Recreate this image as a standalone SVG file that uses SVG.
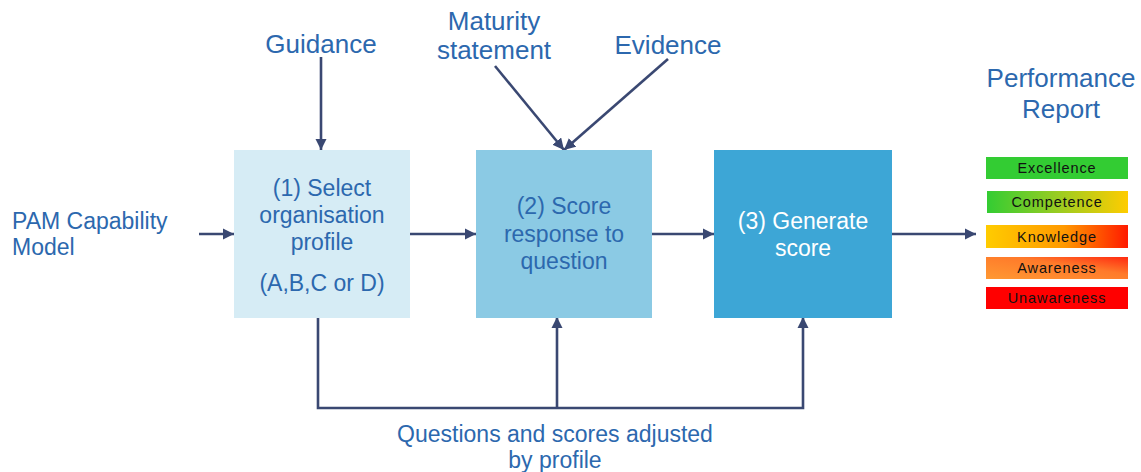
<svg xmlns="http://www.w3.org/2000/svg" width="1141" height="472" viewBox="0 0 1141 472">
<style>
.lbl{font-family:"Liberation Sans",Arial,sans-serif;fill:#2C68AE;text-anchor:middle}
.top{font-size:26px}
.box{font-size:23px}
.leg{font-family:"Liberation Sans",Arial,sans-serif;font-size:14.5px;letter-spacing:0.9px;fill:#111;text-anchor:middle}
.con{stroke:#3A4872;stroke-width:2.6;fill:none}
</style>
<defs>
<marker id="ah" viewBox="0 0 10 10" refX="10" refY="5" markerWidth="4.4" markerHeight="4.4" orient="auto" markerUnits="strokeWidth">
<path d="M0,0 L10,5 L0,10 Z" fill="#3A4872"/>
</marker>
<linearGradient id="gComp" x1="0" x2="1" y1="0" y2="0"><stop offset="0" stop-color="#33CC33"/><stop offset="0.5" stop-color="#99CC22"/><stop offset="1" stop-color="#FFCC00"/></linearGradient>
<linearGradient id="gKnow" x1="0" x2="1" y1="0" y2="0"><stop offset="0" stop-color="#FFCC00"/><stop offset="0.55" stop-color="#FF9900"/><stop offset="1" stop-color="#FF1A00"/></linearGradient>
<linearGradient id="gAware" x1="0" x2="1" y1="1" y2="0"><stop offset="0" stop-color="#FF9933"/><stop offset="0.6" stop-color="#FF7A2A"/><stop offset="1" stop-color="#FF2A10"/></linearGradient>
</defs>

<g id="connectors">
<line class="con" x1="199" y1="234" x2="234" y2="234" marker-end="url(#ah)"/>
<line class="con" x1="410" y1="234" x2="476" y2="234" marker-end="url(#ah)"/>
<line class="con" x1="652" y1="234" x2="714" y2="234" marker-end="url(#ah)"/>
<line class="con" x1="891" y1="234" x2="976" y2="234" marker-end="url(#ah)"/>
<line class="con" x1="321" y1="57" x2="321" y2="150" marker-end="url(#ah)"/>
<line class="con" x1="495" y1="66" x2="564" y2="150" marker-end="url(#ah)"/>
<line class="con" x1="668" y1="59" x2="564" y2="150" marker-end="url(#ah)"/>
<polyline class="con" points="318,315 318,408 803,408 803,317" marker-end="url(#ah)"/>
<line class="con" x1="557" y1="408" x2="557" y2="317" marker-end="url(#ah)"/>
</g>

<g id="node-pam">
<text class="lbl box" style="text-anchor:start" x="12" y="229">PAM Capability</text>
<text class="lbl box" style="text-anchor:start" x="12" y="255">Model</text>
</g>

<g id="node-guidance"><text class="lbl top" x="321" y="53">Guidance</text></g>
<g id="node-maturity">
<text class="lbl top" x="494" y="30">Maturity</text>
<text class="lbl top" x="494" y="59">statement</text>
</g>
<g id="node-evidence"><text class="lbl top" x="668" y="54">Evidence</text></g>

<g id="node-1">
<rect x="234" y="150" width="176" height="168" fill="#D6ECF5"/>
<text class="lbl box" x="322" y="196">(1) Select</text>
<text class="lbl box" x="322" y="223">organisation</text>
<text class="lbl box" x="322" y="250">profile</text>
<text class="lbl box" x="322" y="291">(A,B,C or D)</text>
</g>

<g id="node-2">
<rect x="476" y="150" width="176" height="168" fill="#8BCAE4"/>
<text class="lbl box" x="564" y="214">(2) Score</text>
<text class="lbl box" x="564" y="242">response to</text>
<text class="lbl box" x="564" y="269">question</text>
</g>

<g id="node-3">
<rect x="714" y="150" width="178" height="168" fill="#3DA6D6"/>
<text class="lbl box" style="fill:#fff" x="803" y="229">(3) Generate</text>
<text class="lbl box" style="fill:#fff" x="803" y="256">score</text>
</g>

<g id="node-questions">
<text class="lbl box" x="555" y="442">Questions and scores adjusted</text>
<text class="lbl box" x="555" y="468">by profile</text>
</g>

<g id="node-report">
<text class="lbl top" x="1061" y="87">Performance</text>
<text class="lbl top" x="1061" y="118">Report</text>
</g>

<g id="legend">
<rect x="986" y="157" width="142" height="22" fill="#33CC33"/>
<text class="leg" x="1057" y="173">Excellence</text>
<rect x="987" y="191" width="141" height="22" fill="url(#gComp)"/>
<text class="leg" x="1057" y="207">Competence</text>
<rect x="986" y="225" width="142" height="23" fill="url(#gKnow)"/>
<text class="leg" x="1057" y="242">Knowledge</text>
<rect x="986" y="257" width="142" height="22" fill="url(#gAware)"/>
<text class="leg" x="1057" y="273">Awareness</text>
<rect x="986" y="287" width="142" height="22" fill="#FF0000"/>
<text class="leg" x="1057" y="303">Unawareness</text>
</g>
</svg>
